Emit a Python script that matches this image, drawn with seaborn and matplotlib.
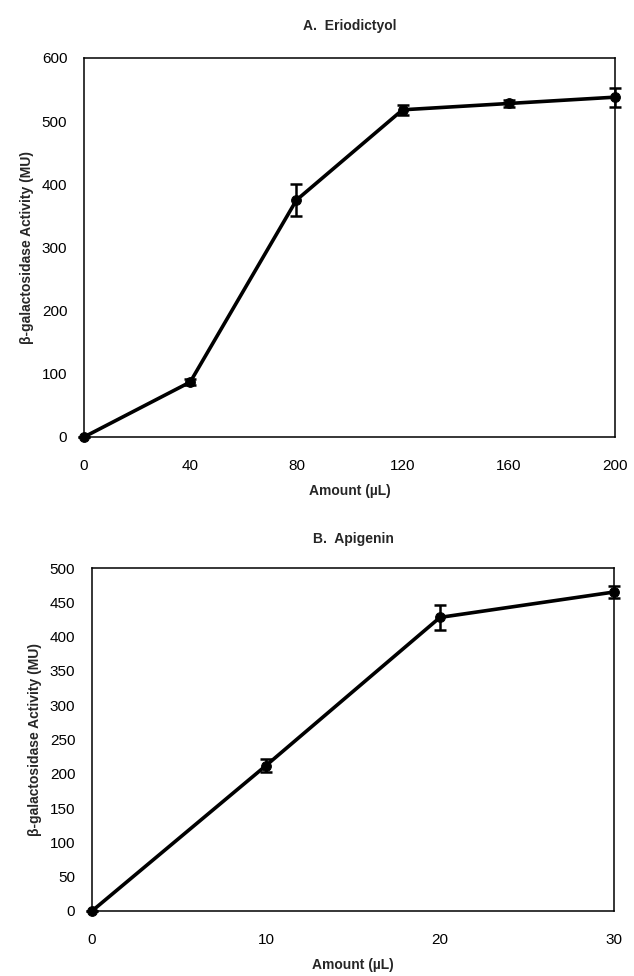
import matplotlib
matplotlib.use("Agg")
import matplotlib.pyplot as plt
import seaborn as sns
import pandas as pd

# Panel A: Eriodictyol
amount_a = [0, 40, 80, 120, 160, 200]
activity_a = [0, 87, 375, 518, 528, 538]
error_a = [0, 5, 25, 8, 5, 15]

# Panel B: Apigenin
amount_b = [0, 10, 20, 30]
activity_b = [0, 212, 428, 465]
error_b = [0, 10, 18, 9]

xticks_a = [0, 40, 80, 120, 160, 200]
yticks_a = [0, 100, 200, 300, 400, 500, 600]
xticks_b = [0, 10, 20, 30]
yticks_b = [0, 50, 100, 150, 200, 250, 300, 350, 400, 450, 500]

title_a = "A.  Eriodictyol"
title_b = "B.  Apigenin"
xlabel = "Amount (\u00b5L)"
ylabel = "\u03b2-galactosidase Activity (MU)"

sns.set_theme(style="white")
plt.rcParams['font.family'] = ['Liberation Sans', 'DejaVu Sans']

fig = plt.figure(figsize=(6.34, 9.76), dpi=100)
W, H = 634, 976

def add_axes(l, r, t, b):
    return fig.add_axes([l / W, 1 - b / H, (r - l) / W, (b - t) / H])

ax_a = add_axes(84, 615, 58, 437)
ax_b = add_axes(92, 614, 568, 911)

def draw(ax, x, y, e, xt, yt, title, tpad):
    df = pd.DataFrame({"x": x, "y": y})
    sns.lineplot(data=df, x="x", y="y", ax=ax, color="black", linewidth=2.6,
                 marker="o", markersize=7, markeredgecolor="black",
                 markerfacecolor="black", errorbar=None)
    ax.errorbar(x, y, yerr=e, fmt="none", ecolor="black", elinewidth=1.8,
                capsize=4, capthick=1.8)
    ax.set_xlim(xt[0], xt[-1])
    ax.set_ylim(yt[0], yt[-1])
    ax.set_xticks(xt)
    ax.set_yticks(yt)
    ax.tick_params(axis="both", direction="in", length=4, width=0.8,
                   labelsize=11, colors="black")
    ax.tick_params(axis="y", pad=12)
    ax.tick_params(axis="x", pad=16)
    for s in ax.spines.values():
        s.set_color("black")
        s.set_linewidth(1.1)
        s.set_visible(True)
    ax.set_xlabel(xlabel, fontsize=10, fontweight="bold", labelpad=8)
    ax.set_ylabel(ylabel, fontsize=10, fontweight="bold", labelpad=6)
    ax.set_title(title, fontsize=10, fontweight="bold", pad=tpad)
    for c in ax.collections + ax.lines:
        c.set_clip_on(False)

draw(ax_a, amount_a, activity_a, error_a, xticks_a, yticks_a, title_a, 20)
draw(ax_b, amount_b, activity_b, error_b, xticks_b, yticks_b, title_b, 18)

fig.savefig("out.png", dpi=100, facecolor="white")
